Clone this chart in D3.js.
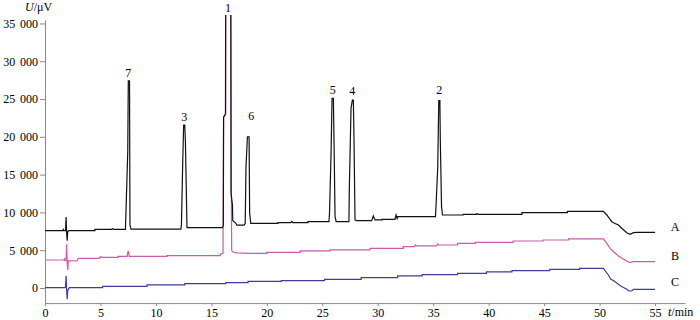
<!DOCTYPE html>
<html>
<head>
<meta charset="utf-8">
<script src="https://cdn.jsdelivr.net/npm/d3@7"></script>
<style>
	body { margin: 0; background: #fff; }
	svg text { font-family: 'Liberation Serif', 'Times New Roman', serif; }
</style>
</head>
<body>
<svg id="chart"></svg>
<script>
// chromatogram traces, [t (min), U (µV)]
const seriesA = [
	[0, 7580], [1.6, 7580], [1.65, 7750], [1.7, 7580], [1.85, 7580], [1.9, 9400], [1.95, 7300], [2.0, 6260],
	[2.05, 7500], [2.15, 7580], [4.5, 7580], [4.5, 7760], [6.0, 7760], [6.1, 7850], [6.2, 7760],
	[7.25, 7760], [7.3, 10100], [7.46, 18000], [7.51, 27400], [7.62, 27400], [7.66, 8330], [7.75, 7800],
	[12.25, 7800], [12.3, 8350], [12.42, 16900], [12.5, 21560], [12.6, 21560], [12.66, 19350],
	[12.74, 12970], [12.8, 8000], [16.0, 8000], [16.08, 8300], [16.1, 22600], [16.27, 23000],
	[16.29, 40000], [16.75, 40000], [16.77, 12560], [16.9, 11000], [16.93, 8900], [17.22, 8560],
	[17.29, 8330], [17.95, 8330], [18.05, 8560], [18.12, 16000], [18.25, 20000], [18.4, 20000],
	[18.45, 9880], [18.55, 8560], [21.0, 8560], [21.0, 8640], [22.15, 8640], [22.25, 8800], [22.35, 8640],
	[23.7, 8640], [23.7, 8770], [25.6, 8770], [25.65, 9900], [25.79, 17800], [25.88, 25100], [26.0, 25100],
	[26.08, 17000], [26.15, 9430], [26.25, 8770], [27.4, 8770], [27.44, 13400], [27.59, 23770], [27.71, 24870],
	[27.8, 24870], [27.86, 19580], [27.95, 9000], [28.05, 8900], [29.45, 8900], [29.6, 9530], [29.75, 9000],
	[30.4, 9000], [30.4, 9090], [31.55, 9090], [31.65, 9660], [31.75, 9200], [31.8, 9430], [35.2, 9430],
	[35.25, 10760], [35.41, 16050], [35.5, 24780], [35.6, 24780], [35.64, 19580], [35.75, 10760],
	[35.84, 9660], [37.7, 9660], [37.7, 9750], [38.9, 9750], [38.95, 9850], [39.05, 9750], [43.0, 9750],
	[43.0, 9960], [47.1, 9960], [47.1, 10150], [50.34, 10150], [50.65, 9660], [50.95, 9090], [51.1, 8770],
	[51.25, 8640], [51.7, 8330], [52.0, 7900], [52.45, 7320], [52.75, 7100], [53.05, 7320], [53.35, 7370],
	[55.0, 7370]
];

const seriesB = [
	[0, 3700], [1.7, 3700], [1.75, 3850], [1.8, 3600], [1.9, 3650], [1.95, 5780], [2.0, 3300], [2.05, 2380],
	[2.1, 3600], [2.9, 3610], [3.0, 3930], [4.9, 3930], [5.0, 4150], [5.1, 4060], [6.6, 4060], [6.6, 4190],
	[7.4, 4190], [7.5, 4900], [7.6, 4190], [11.0, 4190], [11.0, 4270], [15.8, 4270], [15.8, 4460],
	[16.05, 4600], [16.1, 22600], [16.29, 23000], [16.29, 40000], [16.75, 40000], [16.8, 12560], [16.83, 5000],
	[16.9, 4800], [17.3, 4650], [18.5, 4590], [20.0, 4590], [20.0, 4720], [23.0, 4720], [23.0, 4900],
	[25.7, 4900], [25.7, 5030], [29.3, 5030], [29.3, 5250], [32.3, 5250], [32.3, 5460], [33.3, 5460],
	[33.4, 5700], [33.5, 5560], [35.3, 5560], [35.4, 5820], [35.5, 5690], [37.2, 5690], [37.2, 5910],
	[38.8, 5910], [38.8, 6040], [42.2, 6040], [42.2, 6220], [44.9, 6220], [44.9, 6350], [47.2, 6350],
	[47.2, 6500], [50.34, 6500], [50.65, 5910], [50.95, 5250], [51.25, 4800], [51.7, 4230], [52.0, 3930],
	[52.45, 3570], [52.75, 3350], [53.05, 3480], [55.0, 3480]
];

const seriesC = [
	[0, 40], [1.8, 40], [1.85, 100], [1.9, 1630], [1.95, -200], [2.0, -1500], [2.05, -300], [2.2, 40],
	[5.2, 40], [5.2, 220], [9.2, 220], [9.2, 400], [12.6, 400], [12.6, 570], [16.3, 570], [16.3, 700],
	[18.3, 700], [18.3, 880], [21.3, 880], [21.3, 970], [25.2, 970], [25.2, 1150], [28.5, 1150],
	[28.5, 1360], [31.8, 1360], [31.8, 1590], [34.0, 1590], [34.0, 1760], [37.2, 1760], [37.2, 1940],
	[39.8, 1940], [39.8, 2120], [42.1, 2120], [42.1, 2290], [45.5, 2290], [45.5, 2450], [48.2, 2450],
	[48.2, 2600], [50.34, 2600], [50.79, 1720], [51.0, 1190], [51.4, 833], [51.9, 265], [52.45, -172],
	[52.66, -397], [52.9, -397], [53.05, -172], [55.0, -172]
];

const seriesNames = ['A', 'B', 'C'];
const seriesNamePos = [[56.8, 7540], [56.8, 3700], [56.8, 265]];

// peak numbers and where they sit
const peakIds = ['7', '3', '1', '6', '5', '4', '2'];
const peakPos = [[7.51, 27900], [12.55, 22100], [16.5, 36500], [18.6, 22200], [25.95, 25670], [27.7, 25530], [35.55, 25670]];

const xTicks = [0, 5, 10, 15, 20, 25, 30, 35, 40, 45, 50, 55];
const yTicks = [0, 5000, 10000, 15000, 20000, 25000, 30000, 35000];

const colors = { A: '#111111', B: '#cc5aa8', C: '#3c3c9c', axis: '#8a8a8a' };

const width = 700;
const height = 320;

const svg = d3.select('#chart')
	.attr('width', width)
	.attr('height', height);

const x = d3.scaleLinear()
	.domain([0, 57.7]).range([45, 685]);
const y = d3.scaleLinear()
	.domain([-2000, 35460]).range([303.1, 20]);

const fmt = v => d3.format(',')(v).replace(/,/g, '\u2009\u2009');

// traces are cut just above the top of the axis, like the detector output
svg.append('defs').append('clipPath').attr('id', 'plot-clip')
	.append('rect')
	.attr('x', 0).attr('y', 15)
	.attr('width', width).attr('height', height - 15);

// axes
const xAxis = svg.append('g')
	.attr('transform', `translate(0,${y(-2000)})`)
	.call(d3.axisBottom(x).tickValues(xTicks).tickSize(3).tickPadding(2).tickSizeOuter(0));
const yAxis = svg.append('g')
	.attr('transform', `translate(${x(0)},0)`)
	.call(d3.axisLeft(y).tickValues(yTicks).tickFormat(fmt).tickSize(5).tickPadding(2).tickSizeOuter(0));

for (let ax of [xAxis, yAxis]) {
	ax.select('.domain').attr('stroke', colors.axis);
	ax.selectAll('.tick line').attr('stroke', colors.axis);
	ax.selectAll('.tick text').attr('fill', '#000').attr('font-size', 12)
		.attr('font-family', "'Liberation Serif', serif");
}

// traces
const line = d3.line()
	.x(d => x(d[0]))
	.y(d => y(d[1]));

const traces = [['C', seriesC], ['B', seriesB], ['A', seriesA]];
const traceGroup = svg.append('g').attr('clip-path', 'url(#plot-clip)');
for (let [name, data] of traces) {
	traceGroup.append('path').datum(data)
		.attr('d', line)
		.attr('fill', 'none')
		.attr('stroke', colors[name])
		.attr('stroke-width', 1.2)
		.attr('stroke-linejoin', 'miter');
}

// peak labels
svg.append('g').selectAll('text').data(peakIds)
	.enter()
	.append('text')
	.attr('x', (d, i) => x(peakPos[i][0]))
	.attr('y', (d, i) => y(peakPos[i][1]))
	.attr('text-anchor', 'middle')
	.attr('font-size', 12)
	.text(d => d);

// series labels
svg.append('g').selectAll('text').data(seriesNames)
	.enter()
	.append('text')
	.attr('x', (d, i) => x(seriesNamePos[i][0]))
	.attr('y', (d, i) => y(seriesNamePos[i][1]))
	.attr('text-anchor', 'middle')
	.attr('font-size', 12)
	.text(d => d);

// axis titles
const yTitle = svg.append('text')
	.attr('x', 25).attr('y', 11)
	.attr('font-size', 12);
yTitle.append('tspan').attr('font-style', 'italic').text('U');
yTitle.append('tspan').text('/\u03bcV');

const xTitle = svg.append('text')
	.attr('x', 668).attr('y', 316)
	.attr('font-size', 12);
xTitle.append('tspan').attr('font-style', 'italic').text('t');
xTitle.append('tspan').text('/min');
</script>
</body>
</html>
